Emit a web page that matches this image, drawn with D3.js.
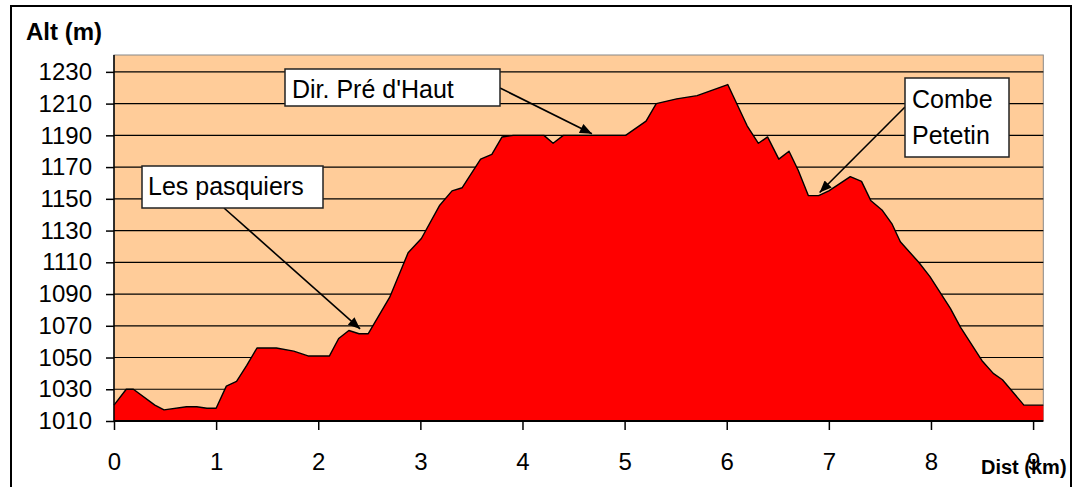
<!DOCTYPE html>
<html><head><meta charset="utf-8">
<script src="https://cdn.jsdelivr.net/npm/d3@7"></script>
<style>
html,body{margin:0;padding:0;background:#fff;}
svg{display:block;font-family:"Liberation Sans",Arial,sans-serif;}
</style></head>
<body>
<svg id="chart" width="1084" height="487"></svg>
<script>
// ---- data ----
const dist = [0, 0.12, 0.19, 0.40, 0.49, 0.71, 0.81, 0.91, 1.00, 1.10, 1.20, 1.30, 1.40, 1.59, 1.76, 1.90, 2.11, 2.20, 2.30, 2.40, 2.49, 2.70, 2.88, 3.01, 3.19, 3.31, 3.41, 3.59, 3.70, 3.80, 3.91, 4.21, 4.30, 4.40, 5.01, 5.21, 5.31, 5.51, 5.71, 6.01, 6.20, 6.31, 6.40, 6.51, 6.61, 6.70, 6.80, 6.90, 7.00, 7.21, 7.32, 7.41, 7.52, 7.62, 7.70, 7.88, 7.99, 8.19, 8.29, 8.50, 8.61, 8.70, 8.91, 9.10];
const alt  = [1020, 1030, 1030, 1020, 1017, 1019, 1019, 1018, 1018, 1032, 1035, 1045, 1056, 1056, 1054, 1051, 1051, 1062, 1067, 1065, 1065, 1088, 1116, 1125, 1146, 1155, 1157, 1175, 1178, 1189, 1190, 1190, 1185, 1190, 1190, 1199, 1210, 1213, 1215, 1222, 1196, 1185, 1189, 1175, 1180, 1168, 1152, 1152, 1155, 1164, 1161, 1149, 1143, 1134, 1123, 1110, 1101, 1081, 1069, 1048, 1040, 1036, 1020, 1020];
const yTicks = [1010, 1030, 1050, 1070, 1090, 1110, 1130, 1150, 1170, 1190, 1210, 1230];
const xTicks = [0, 1, 2, 3, 4, 5, 6, 7, 8, 9];
const yTitle = "Alt (m)";
const xTitle = "Dist (km)";
const noteText = [["Les pasquiers"], ["Dir. Pré d'Haut"], ["Combe", "Petetin"]];
const noteDist = [2.41, 4.68, 6.91];
const noteAlt  = [1068, 1191, 1154];

// ---- layout ----
const L = 114, R = 1043.3, T = 55, B = 421;
const svg = d3.select("#chart");
const x = d3.scaleLinear().domain([0, 9.1]).range([L, R]);
const y = d3.scaleLinear().domain([1010, 1240]).range([B, 56]);
const pts = dist.map((d, i) => [d, alt[i]]);

// outer border
svg.append("rect").attr("x", 11).attr("y", 6).attr("width", 1060).attr("height", 500)
  .attr("fill", "#fff").attr("stroke", "#000").attr("stroke-width", 2);

// plot background
svg.append("rect").attr("x", L).attr("y", T).attr("width", R - L).attr("height", B - T)
  .attr("fill", "#FFCC99").attr("stroke", "#888").attr("stroke-width", 1);

// gridlines
svg.append("g").selectAll("line").data(yTicks.filter(v => v > 1010)).join("line")
  .attr("x1", L).attr("x2", R).attr("y1", d => y(d)).attr("y2", d => y(d))
  .attr("stroke", "#000").attr("stroke-width", 1.2);

// area
const area = d3.area().x(d => x(d[0])).y0(y(1010)).y1(d => y(d[1]));
svg.append("path").datum(pts).attr("d", area).attr("fill", "#FF0000");
const line = d3.line().x(d => x(d[0])).y(d => y(d[1]));
svg.append("path").datum(pts).attr("d", line).attr("fill", "none")
  .attr("stroke", "#000").attr("stroke-width", 1.4).attr("stroke-linejoin", "round");

// axes
const yAxis = d3.axisLeft(y).tickValues(yTicks).tickSize(8).tickPadding(14).tickFormat(d3.format("d"));
const gy = svg.append("g").attr("transform", `translate(${L},0)`).call(yAxis);
gy.select(".domain").remove();
gy.append("line").attr("x1", 0).attr("x2", 0).attr("y1", T).attr("y2", B).attr("stroke", "#000").attr("stroke-width", 1.5);
gy.selectAll(".tick line").attr("stroke", "#000").attr("stroke-width", 1.5);
gy.selectAll(".tick text").attr("font-size", 24).attr("fill", "#000")
  .attr("font-family", "'Liberation Sans', Arial, sans-serif");

const xAxis = d3.axisBottom(x).tickValues(xTicks).tickSize(9).tickPadding(23).tickFormat(d3.format("d"));
const gx = svg.append("g").attr("transform", `translate(0,${B})`).call(xAxis);
gx.select(".domain").remove();
gx.append("line").attr("x1", L).attr("x2", R).attr("y1", 0).attr("y2", 0).attr("stroke", "#000").attr("stroke-width", 2);
gx.selectAll(".tick line").attr("stroke", "#000").attr("stroke-width", 1.5);
gx.selectAll(".tick text").attr("font-size", 24).attr("fill", "#000")
  .attr("font-family", "'Liberation Sans', Arial, sans-serif");

// titles
svg.append("text").attr("x", 26).attr("y", 40).attr("font-size", 24).attr("font-weight", "bold").text(yTitle);
svg.append("text").attr("x", 981).attr("y", 474).attr("font-size", 20).attr("font-weight", "bold").text(xTitle);

// annotations
const defs = svg.append("defs");
defs.append("marker").attr("id", "arr").attr("viewBox", "0 0 12 10").attr("refX", 12).attr("refY", 5)
  .attr("markerWidth", 13).attr("markerHeight", 10).attr("markerUnits", "userSpaceOnUse")
  .attr("orient", "auto").append("path").attr("d", "M0,0 L12,5 L0,10 Z").attr("fill", "#000");

const boxes = [
  {x: 142, y: 166, w: 181, h: 42, sx: 224, sy: 208, tx: 148, ty: 195},
  {x: 285, y: 69, w: 215, h: 37, sx: 500, sy: 88, tx: 292, ty: 98},
  {x: 905, y: 78, w: 104, h: 79, sx: 905, sy: 107, tx: 912, ty: 108}
];
boxes.forEach((b, i) => {
  svg.append("line").attr("x1", b.sx).attr("y1", b.sy)
    .attr("x2", x(noteDist[i])).attr("y2", y(noteAlt[i]))
    .attr("stroke", "#000").attr("stroke-width", 1.6).attr("marker-end", "url(#arr)");
  svg.append("rect").attr("x", b.x).attr("y", b.y).attr("width", b.w).attr("height", b.h)
    .attr("fill", "#fff").attr("stroke", "#222").attr("stroke-width", 1.5);
  const t = svg.append("text").attr("x", b.tx).attr("y", b.ty).attr("font-size", 25).attr("fill", "#000");
  noteText[i].forEach((s, j) => t.append("tspan").attr("x", b.tx).attr("dy", j === 0 ? 0 : 36).text(s));
});
</script>
</body></html>
